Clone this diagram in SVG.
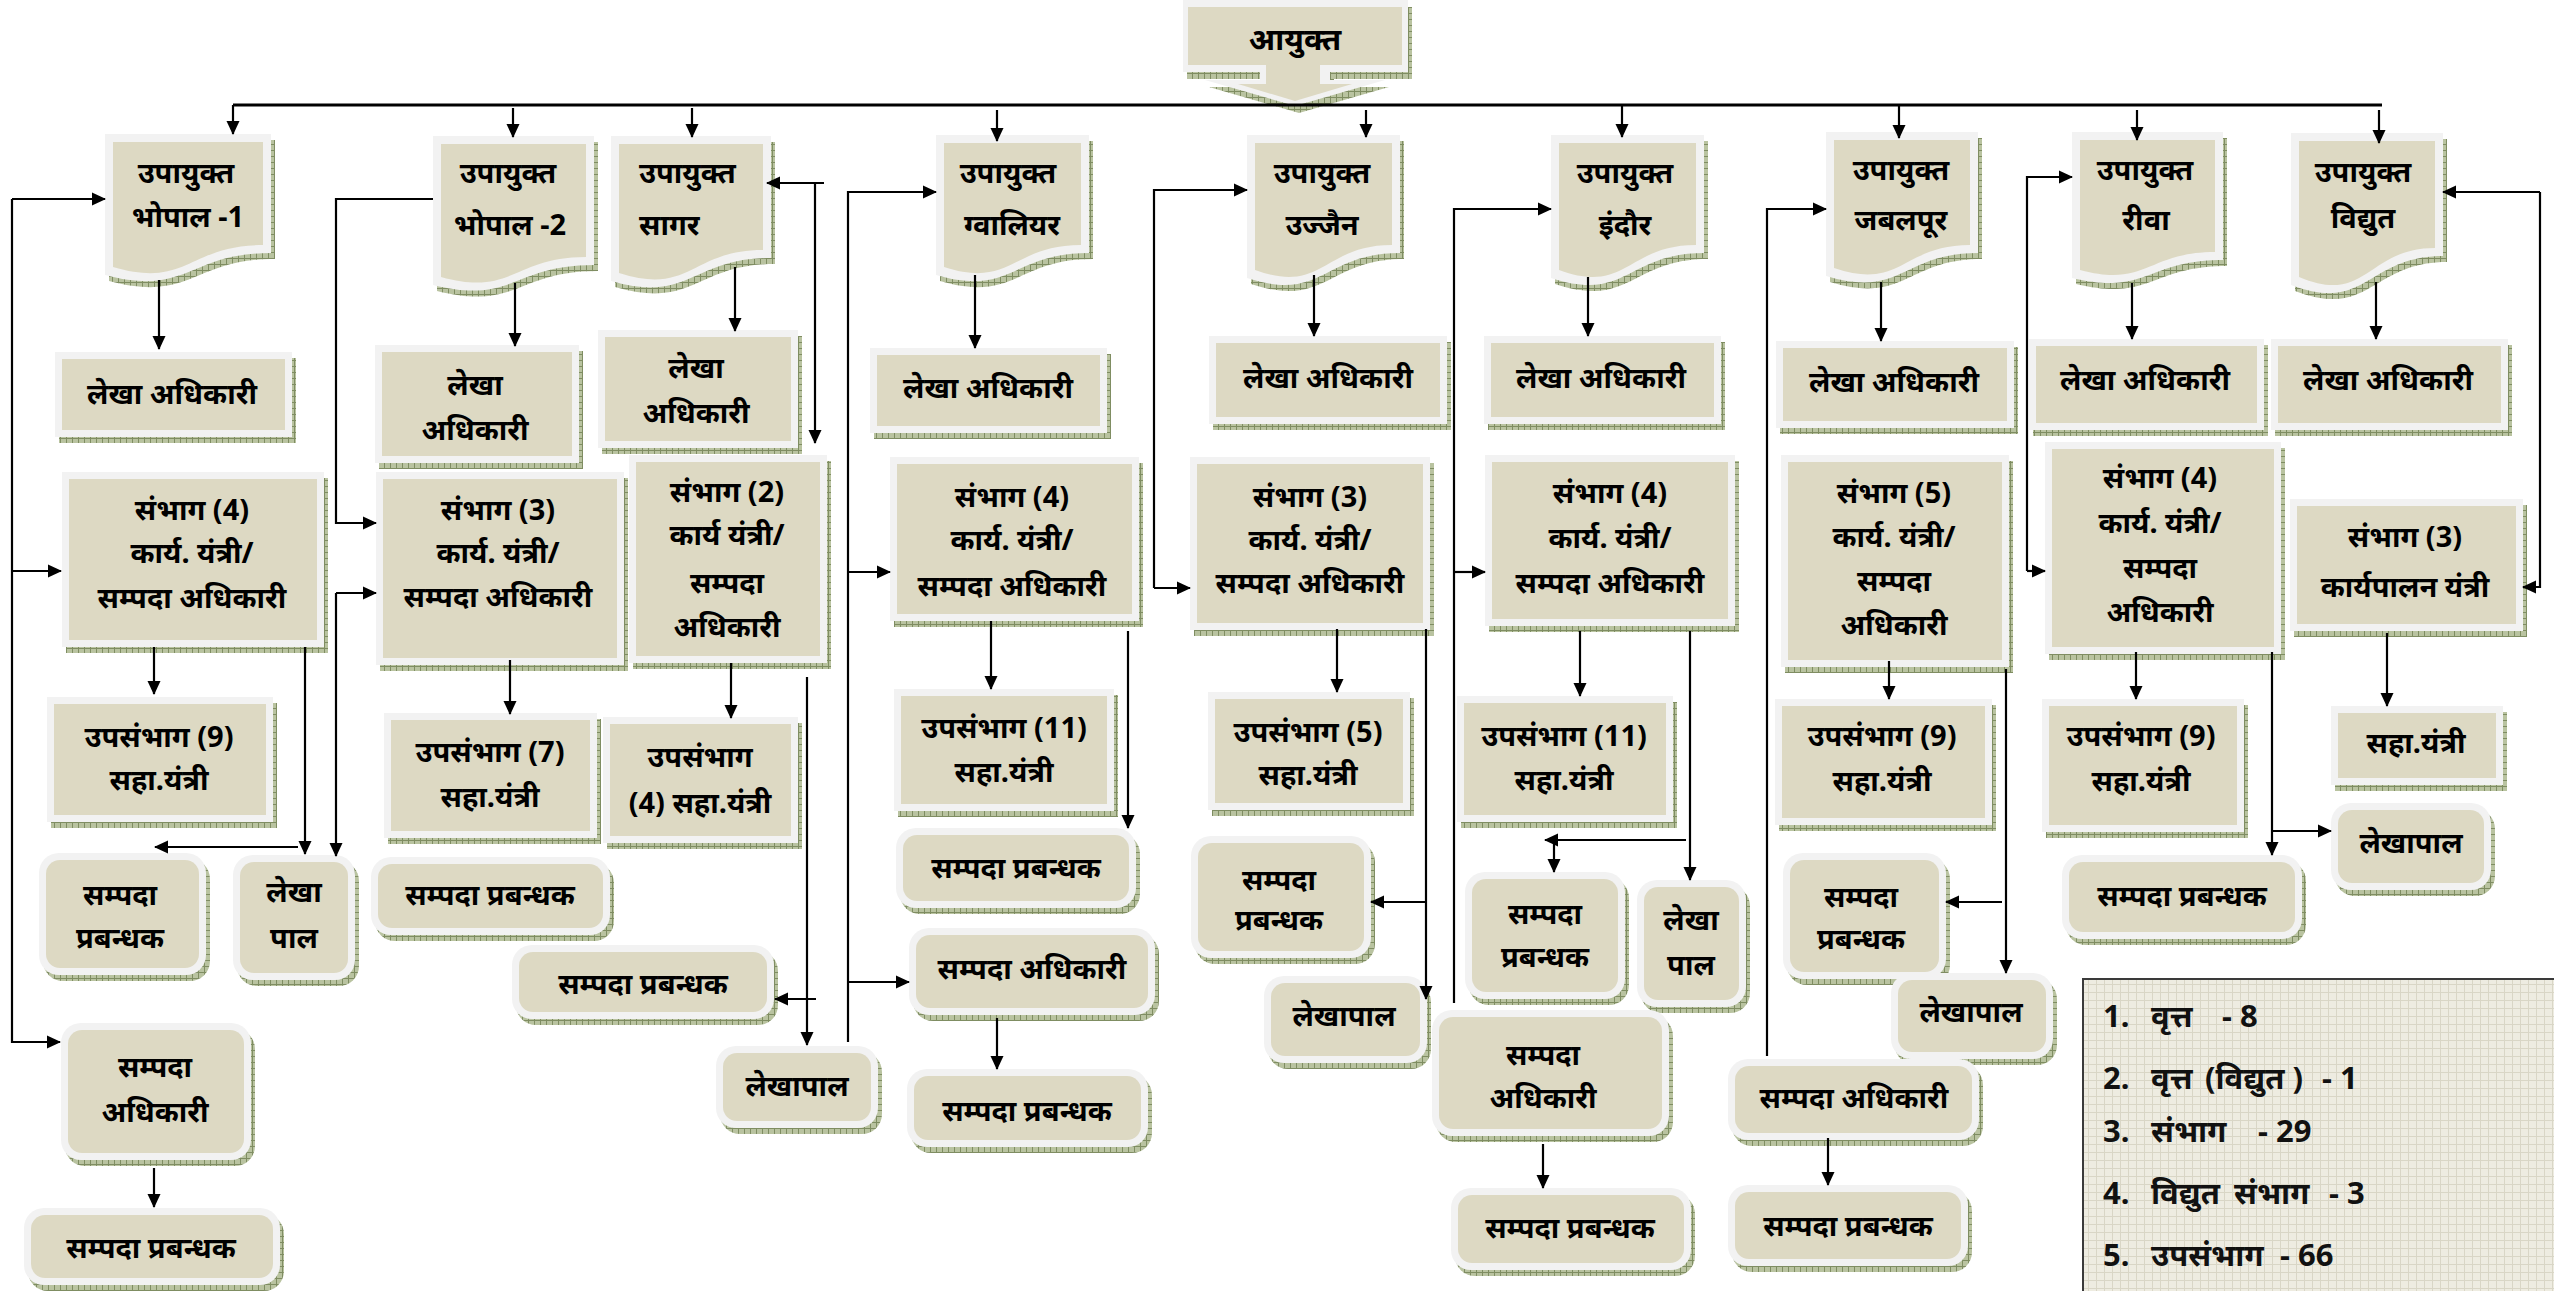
<svg xmlns="http://www.w3.org/2000/svg" width="2554" height="1291" viewBox="0 0 2554 1291">
<defs>
<pattern id="hatch" width="6" height="6" patternUnits="userSpaceOnUse"><rect width="6" height="6" fill="#B9C3A0"/><path d="M0,0.5 H6 M0.5,0 V6" stroke="#7F8D62" stroke-width="1"/></pattern>
<pattern id="grid" width="8" height="8" patternUnits="userSpaceOnUse"><rect width="8" height="8" fill="#EEECE1"/><path d="M0,0.5 H8 M0.5,0 V8" stroke="#D9D6C6" stroke-width="1"/></pattern>
<marker id="ah" viewBox="0 0 14 14" refX="13" refY="7" markerWidth="14" markerHeight="14" markerUnits="userSpaceOnUse" orient="auto"><path d="M0,0.5 L14,7 L0,13.5 Z" fill="#000"/></marker>
</defs>
<style>
.sh{fill:url(#hatch)}
.ob{fill:#F2F2F2}
.ib{fill:#DDD9C3}
.t{font-family:"Noto Sans",sans-serif;font-weight:bold;font-size:29px;fill:#000;text-anchor:middle}
.tl{text-anchor:start}
.lg{font-family:"Noto Sans",sans-serif;font-weight:bold;font-size:31px;fill:#111}
.c{fill:none;stroke:#000;stroke-width:2.2;marker-end:url(#ah)}
.n{fill:none;stroke:#000;stroke-width:2.2}
</style>
<rect width="2554" height="1291" fill="#fff"/>

<g id="aayukt">
<path class="sh" transform="translate(4,7)" d="M1183,0 H1408 V72 H1330 V80 H1385 L1295,106 L1205,80 H1260 V72 H1183 Z"/>
<path class="ob" d="M1183,0 H1408 V72 H1330 V80 H1385 L1295,106 L1205,80 H1260 V72 H1183 Z"/>
<path class="ib" d="M1188,7 H1402 V65 H1320 V84 H1352 L1295,101 L1238,84 H1266 V65 H1188 Z"/>
<text class="t" x="1295" y="50" style="font-size:31px">आयुक्त</text>
</g>

<!-- Documents -->
<g id="doc-bhopal1">
<path class="sh" transform="translate(4,6)" d="M105,134 H271 V253 C188,253 188,297 105,275 Z"/>
<path class="ob" d="M105,134 H271 V253 C188,253 188,297 105,275 Z"/>
<path class="ib" d="M113,142 H263 V245 C188,245 188,289 113,267 Z"/>
<text class="t" x="186" y="183">उपायुक्त</text><text class="t" x="188" y="227">भोपाल -1</text>
</g>
<g id="doc-bhopal2">
<path class="sh" transform="translate(4,6)" d="M433,136 H594 V265 C513,265 513,305 433,285 Z"/>
<path class="ob" d="M433,136 H594 V265 C513,265 513,305 433,285 Z"/>
<path class="ib" d="M441,144 H586 V257 C513,257 513,297 441,277 Z"/>
<text class="t" x="508" y="183">उपायुक्त</text><text class="t" x="510" y="235">भोपाल -2</text>
</g>
<g id="doc-sagar">
<path class="sh" transform="translate(4,6)" d="M611,136 H771 V258 C691,258 691,304 611,281 Z"/>
<path class="ob" d="M611,136 H771 V258 C691,258 691,304 611,281 Z"/>
<path class="ib" d="M619,144 H763 V250 C691,250 691,296 619,273 Z"/>
<text class="t tl" x="639" y="183">उपायुक्त</text><text class="t tl" x="639" y="235">सागर</text>
</g>
<g id="doc-gwalior">
<path class="sh" transform="translate(4,6)" d="M936,135 H1089 V253 C1012,253 1012,297 936,275 Z"/>
<path class="ob" d="M936,135 H1089 V253 C1012,253 1012,297 936,275 Z"/>
<path class="ib" d="M944,143 H1081 V245 C1012,245 1012,289 944,267 Z"/>
<text class="t" x="1008" y="183">उपायुक्त</text><text class="t" x="1012" y="235">ग्वालियर</text>
</g>
<g id="doc-ujjain">
<path class="sh" transform="translate(4,6)" d="M1247,135 H1400 V253 C1323,253 1323,303 1247,278 Z"/>
<path class="ob" d="M1247,135 H1400 V253 C1323,253 1323,303 1247,278 Z"/>
<path class="ib" d="M1255,143 H1392 V245 C1323,245 1323,295 1255,270 Z"/>
<text class="t" x="1322" y="183">उपायुक्त</text><text class="t" x="1322" y="235">उज्जैन</text>
</g>
<g id="doc-indore">
<path class="sh" transform="translate(4,6)" d="M1551,135 H1704 V253 C1627,253 1627,303 1551,278 Z"/>
<path class="ob" d="M1551,135 H1704 V253 C1627,253 1627,303 1551,278 Z"/>
<path class="ib" d="M1559,143 H1696 V245 C1627,245 1627,295 1559,270 Z"/>
<text class="t" x="1625" y="183">उपायुक्त</text><text class="t" x="1625" y="235">इंदौर</text>
</g>
<g id="doc-jabalpur">
<path class="sh" transform="translate(4,6)" d="M1826,132 H1978 V253 C1902,253 1902,299 1826,276 Z"/>
<path class="ob" d="M1826,132 H1978 V253 C1902,253 1902,299 1826,276 Z"/>
<path class="ib" d="M1834,140 H1970 V245 C1902,245 1902,291 1834,268 Z"/>
<text class="t" x="1901" y="180">उपायुक्त</text><text class="t" x="1901" y="230">जबलपूर</text>
</g>
<g id="doc-rewa">
<path class="sh" transform="translate(4,6)" d="M2072,132 H2223 V260 C2147,260 2147,296 2072,278 Z"/>
<path class="ob" d="M2072,132 H2223 V260 C2147,260 2147,296 2072,278 Z"/>
<path class="ib" d="M2080,140 H2215 V252 C2147,252 2147,288 2080,270 Z"/>
<text class="t" x="2145" y="180">उपायुक्त</text><text class="t" x="2146" y="230">रीवा</text>
</g>
<g id="doc-vidyut">
<path class="sh" transform="translate(4,6)" d="M2291,133 H2443 V256 C2367,256 2367,314 2291,285 Z"/>
<path class="ob" d="M2291,133 H2443 V256 C2367,256 2367,314 2291,285 Z"/>
<path class="ib" d="M2299,141 H2435 V248 C2367,248 2367,306 2299,277 Z"/>
<text class="t" x="2363" y="182">उपायुक्त</text><text class="t" x="2363" y="228">विद्युत</text>
</g>

<!-- Bhopal-1 -->
<g id="bp1-lekha"><rect class="sh" x="59" y="358" width="237" height="85"/><rect class="ob" x="55" y="352" width="237" height="85"/><rect class="ib" x="62" y="359" width="223" height="71"/><text class="t" x="172" y="404">लेखा अधिकारी</text></g>
<g id="bp1-sambhag"><rect class="sh" x="66" y="478" width="262" height="175"/><rect class="ob" x="62" y="472" width="262" height="175"/><rect class="ib" x="69" y="479" width="248" height="161"/><text class="t" x="192" y="520">संभाग (4)</text><text class="t" x="192" y="563">कार्य. यंत्री/</text><text class="t" x="192" y="608">सम्पदा अधिकारी</text></g>
<g id="bp1-upsambhag"><rect class="sh" x="51" y="703" width="226" height="125"/><rect class="ob" x="47" y="697" width="226" height="125"/><rect class="ib" x="54" y="704" width="212" height="111"/><text class="t" x="159" y="747">उपसंभाग (9)</text><text class="t" x="159" y="790">सहा.यंत्री</text></g>
<g id="bp1-prabandhak"><rect class="sh" x="43" y="859" width="167" height="122" rx="20"/><rect class="ob" x="39" y="853" width="167" height="122" rx="20"/><rect class="ib" x="46" y="860" width="153" height="108" rx="14"/><text class="t" x="120" y="905">सम्पदा</text><text class="t" x="120" y="948">प्रबन्धक</text></g>
<g id="bp-lekhapal"><rect class="sh" x="237" y="861" width="122" height="125" rx="20"/><rect class="ob" x="233" y="855" width="122" height="125" rx="20"/><rect class="ib" x="240" y="862" width="108" height="111" rx="14"/><text class="t" x="294" y="902">लेखा</text><text class="t" x="294" y="948">पाल</text></g>
<g id="bp1-adhikari"><rect class="sh" x="65" y="1029" width="190" height="137" rx="20"/><rect class="ob" x="61" y="1023" width="190" height="137" rx="20"/><rect class="ib" x="68" y="1030" width="176" height="123" rx="14"/><text class="t" x="155" y="1077">सम्पदा</text><text class="t" x="155" y="1122">अधिकारी</text></g>
<g id="bp1-prabandhak2"><rect class="sh" x="28" y="1214" width="256" height="77" rx="20"/><rect class="ob" x="24" y="1208" width="256" height="77" rx="20"/><rect class="ib" x="31" y="1215" width="242" height="63" rx="14"/><text class="t" x="151" y="1258">सम्पदा प्रबन्धक</text></g>

<!-- Bhopal-2 -->
<g id="bp2-lekha"><rect class="sh" x="379" y="351" width="204" height="118"/><rect class="ob" x="375" y="345" width="204" height="118"/><rect class="ib" x="382" y="352" width="190" height="104"/><text class="t" x="475" y="395">लेखा</text><text class="t" x="475" y="440">अधिकारी</text></g>
<g id="bp2-sambhag"><rect class="sh" x="380" y="478" width="248" height="193"/><rect class="ob" x="376" y="472" width="248" height="193"/><rect class="ib" x="383" y="479" width="234" height="179"/><text class="t" x="498" y="520">संभाग (3)</text><text class="t" x="498" y="563">कार्य. यंत्री/</text><text class="t" x="498" y="607">सम्पदा अधिकारी</text></g>
<g id="bp2-upsambhag"><rect class="sh" x="388" y="719" width="213" height="125"/><rect class="ob" x="384" y="713" width="213" height="125"/><rect class="ib" x="391" y="720" width="199" height="111"/><text class="t" x="490" y="762">उपसंभाग (7)</text><text class="t" x="490" y="807">सहा.यंत्री</text></g>
<g id="bp2-prabandhak"><rect class="sh" x="375" y="863" width="239" height="78" rx="20"/><rect class="ob" x="371" y="857" width="239" height="78" rx="20"/><rect class="ib" x="378" y="864" width="225" height="64" rx="14"/><text class="t" x="490" y="905">सम्पदा प्रबन्धक</text></g>

<!-- Sagar -->
<g id="sg-lekha"><rect class="sh" x="602" y="336" width="200" height="118"/><rect class="ob" x="598" y="330" width="200" height="118"/><rect class="ib" x="605" y="337" width="186" height="104"/><text class="t" x="696" y="378">लेखा</text><text class="t" x="696" y="423">अधिकारी</text></g>
<g id="sg-sambhag"><rect class="sh" x="633" y="461" width="198" height="208"/><rect class="ob" x="629" y="455" width="198" height="208"/><rect class="ib" x="636" y="462" width="184" height="194"/><text class="t" x="727" y="502">संभाग (2)</text><text class="t" x="727" y="545">कार्य यंत्री/</text><text class="t" x="727" y="593">सम्पदा</text><text class="t" x="727" y="637">अधिकारी</text></g>
<g id="sg-upsambhag"><rect class="sh" x="607" y="723" width="195" height="126"/><rect class="ob" x="603" y="717" width="195" height="126"/><rect class="ib" x="610" y="724" width="181" height="112"/><text class="t" x="700" y="767">उपसंभाग</text><text class="t" x="700" y="813">(4) सहा.यंत्री</text></g>
<g id="sg-prabandhak"><rect class="sh" x="516" y="951" width="262" height="74" rx="20"/><rect class="ob" x="512" y="945" width="262" height="74" rx="20"/><rect class="ib" x="519" y="952" width="248" height="60" rx="14"/><text class="t" x="643" y="994">सम्पदा प्रबन्धक</text></g>
<g id="sg-lekhapal"><rect class="sh" x="720" y="1052" width="162" height="82" rx="20"/><rect class="ob" x="716" y="1046" width="162" height="82" rx="20"/><rect class="ib" x="723" y="1053" width="148" height="68" rx="14"/><text class="t" x="797" y="1096">लेखापाल</text></g>

<!-- Gwalior -->
<g id="gw-lekha"><rect class="sh" x="874" y="354" width="237" height="85"/><rect class="ob" x="870" y="348" width="237" height="85"/><rect class="ib" x="877" y="355" width="223" height="71"/><text class="t" x="988" y="398">लेखा अधिकारी</text></g>
<g id="gw-sambhag"><rect class="sh" x="894" y="463" width="249" height="164"/><rect class="ob" x="890" y="457" width="249" height="164"/><rect class="ib" x="897" y="464" width="235" height="150"/><text class="t" x="1012" y="507">संभाग (4)</text><text class="t" x="1012" y="550">कार्य. यंत्री/</text><text class="t" x="1012" y="596">सम्पदा अधिकारी</text></g>
<g id="gw-upsambhag"><rect class="sh" x="898" y="695" width="220" height="122"/><rect class="ob" x="894" y="689" width="220" height="122"/><rect class="ib" x="901" y="696" width="206" height="108"/><text class="t" x="1004" y="738">उपसंभाग (11)</text><text class="t" x="1004" y="782">सहा.यंत्री</text></g>
<g id="gw-prabandhak"><rect class="sh" x="900" y="834" width="240" height="80" rx="20"/><rect class="ob" x="896" y="828" width="240" height="80" rx="20"/><rect class="ib" x="903" y="835" width="226" height="66" rx="14"/><text class="t" x="1016" y="878">सम्पदा प्रबन्धक</text></g>
<g id="gw-adhikari"><rect class="sh" x="913" y="934" width="246" height="87" rx="20"/><rect class="ob" x="909" y="928" width="246" height="87" rx="20"/><rect class="ib" x="916" y="935" width="232" height="73" rx="14"/><text class="t" x="1032" y="979">सम्पदा अधिकारी</text></g>
<g id="gw-prabandhak2"><rect class="sh" x="911" y="1075" width="241" height="78" rx="20"/><rect class="ob" x="907" y="1069" width="241" height="78" rx="20"/><rect class="ib" x="914" y="1076" width="227" height="64" rx="14"/><text class="t" x="1027" y="1121">सम्पदा प्रबन्धक</text></g>

<!-- Ujjain -->
<g id="uj-lekha"><rect class="sh" x="1213" y="342" width="238" height="88"/><rect class="ob" x="1209" y="336" width="238" height="88"/><rect class="ib" x="1216" y="343" width="224" height="74"/><text class="t" x="1328" y="388">लेखा अधिकारी</text></g>
<g id="uj-sambhag"><rect class="sh" x="1194" y="463" width="240" height="173"/><rect class="ob" x="1190" y="457" width="240" height="173"/><rect class="ib" x="1197" y="464" width="226" height="159"/><text class="t" x="1310" y="507">संभाग (3)</text><text class="t" x="1310" y="550">कार्य. यंत्री/</text><text class="t" x="1310" y="593">सम्पदा अधिकारी</text></g>
<g id="uj-upsambhag"><rect class="sh" x="1212" y="698" width="202" height="118"/><rect class="ob" x="1208" y="692" width="202" height="118"/><rect class="ib" x="1215" y="699" width="188" height="104"/><text class="t" x="1308" y="742">उपसंभाग (5)</text><text class="t" x="1308" y="785">सहा.यंत्री</text></g>
<g id="uj-prabandhak"><rect class="sh" x="1195" y="842" width="180" height="122" rx="20"/><rect class="ob" x="1191" y="836" width="180" height="122" rx="20"/><rect class="ib" x="1198" y="843" width="166" height="108" rx="14"/><text class="t" x="1279" y="890">सम्पदा</text><text class="t" x="1279" y="930">प्रबन्धक</text></g>
<g id="uj-lekhapal"><rect class="sh" x="1268" y="982" width="163" height="87" rx="20"/><rect class="ob" x="1264" y="976" width="163" height="87" rx="20"/><rect class="ib" x="1271" y="983" width="149" height="73" rx="14"/><text class="t" x="1344" y="1026">लेखापाल</text></g>

<!-- Indore -->
<g id="in-lekha"><rect class="sh" x="1488" y="342" width="237" height="88"/><rect class="ob" x="1484" y="336" width="237" height="88"/><rect class="ib" x="1491" y="343" width="223" height="74"/><text class="t" x="1601" y="388">लेखा अधिकारी</text></g>
<g id="in-sambhag"><rect class="sh" x="1489" y="461" width="250" height="171"/><rect class="ob" x="1485" y="455" width="250" height="171"/><rect class="ib" x="1492" y="462" width="236" height="157"/><text class="t" x="1610" y="503">संभाग (4)</text><text class="t" x="1610" y="548">कार्य. यंत्री/</text><text class="t" x="1610" y="593">सम्पदा अधिकारी</text></g>
<g id="in-upsambhag"><rect class="sh" x="1461" y="702" width="216" height="126"/><rect class="ob" x="1457" y="696" width="216" height="126"/><rect class="ib" x="1464" y="703" width="202" height="112"/><text class="t" x="1564" y="746">उपसंभाग (11)</text><text class="t" x="1564" y="790">सहा.यंत्री</text></g>
<g id="in-prabandhak"><rect class="sh" x="1469" y="878" width="160" height="127" rx="20"/><rect class="ob" x="1465" y="872" width="160" height="127" rx="20"/><rect class="ib" x="1472" y="879" width="146" height="113" rx="14"/><text class="t" x="1545" y="924">सम्पदा</text><text class="t" x="1545" y="967">प्रबन्धक</text></g>
<g id="in-lekhapal"><rect class="sh" x="1641" y="886" width="109" height="127" rx="20"/><rect class="ob" x="1637" y="880" width="109" height="127" rx="20"/><rect class="ib" x="1644" y="887" width="95" height="113" rx="14"/><text class="t" x="1691" y="930">लेखा</text><text class="t" x="1691" y="975">पाल</text></g>
<g id="in-adhikari"><rect class="sh" x="1436" y="1016" width="237" height="126" rx="20"/><rect class="ob" x="1432" y="1010" width="237" height="126" rx="20"/><rect class="ib" x="1439" y="1017" width="223" height="112" rx="14"/><text class="t" x="1543" y="1065">सम्पदा</text><text class="t" x="1543" y="1108">अधिकारी</text></g>
<g id="in-prabandhak2"><rect class="sh" x="1455" y="1194" width="240" height="82" rx="20"/><rect class="ob" x="1451" y="1188" width="240" height="82" rx="20"/><rect class="ib" x="1458" y="1195" width="226" height="68" rx="14"/><text class="t" x="1570" y="1238">सम्पदा प्रबन्धक</text></g>

<!-- Jabalpur -->
<g id="jb-lekha"><rect class="sh" x="1780" y="347" width="238" height="87"/><rect class="ob" x="1776" y="341" width="238" height="87"/><rect class="ib" x="1783" y="348" width="224" height="73"/><text class="t" x="1894" y="392">लेखा अधिकारी</text></g>
<g id="jb-sambhag"><rect class="sh" x="1785" y="461" width="228" height="212"/><rect class="ob" x="1781" y="455" width="228" height="212"/><rect class="ib" x="1788" y="462" width="214" height="198"/><text class="t" x="1894" y="503">संभाग (5)</text><text class="t" x="1894" y="547">कार्य. यंत्री/</text><text class="t" x="1894" y="591">सम्पदा</text><text class="t" x="1894" y="635">अधिकारी</text></g>
<g id="jb-upsambhag"><rect class="sh" x="1779" y="705" width="217" height="126"/><rect class="ob" x="1775" y="699" width="217" height="126"/><rect class="ib" x="1782" y="706" width="203" height="112"/><text class="t" x="1882" y="746">उपसंभाग (9)</text><text class="t" x="1882" y="791">सहा.यंत्री</text></g>
<g id="jb-prabandhak"><rect class="sh" x="1787" y="859" width="163" height="126" rx="20"/><rect class="ob" x="1783" y="853" width="163" height="126" rx="20"/><rect class="ib" x="1790" y="860" width="149" height="112" rx="14"/><text class="t" x="1861" y="907">सम्पदा</text><text class="t" x="1861" y="949">प्रबन्धक</text></g>
<g id="jb-lekhapal"><rect class="sh" x="1895" y="979" width="162" height="86" rx="20"/><rect class="ob" x="1891" y="973" width="162" height="86" rx="20"/><rect class="ib" x="1898" y="980" width="148" height="72" rx="14"/><text class="t" x="1971" y="1022">लेखापाल</text></g>
<g id="jb-adhikari"><rect class="sh" x="1732" y="1065" width="251" height="81" rx="20"/><rect class="ob" x="1728" y="1059" width="251" height="81" rx="20"/><rect class="ib" x="1735" y="1066" width="237" height="67" rx="14"/><text class="t" x="1854" y="1108">सम्पदा अधिकारी</text></g>
<g id="jb-prabandhak2"><rect class="sh" x="1732" y="1191" width="240" height="81" rx="20"/><rect class="ob" x="1728" y="1185" width="240" height="81" rx="20"/><rect class="ib" x="1735" y="1192" width="226" height="67" rx="14"/><text class="t" x="1848" y="1236">सम्पदा प्रबन्धक</text></g>

<!-- Rewa -->
<g id="rw-lekha"><rect class="sh" x="2033" y="345" width="235" height="91"/><rect class="ob" x="2029" y="339" width="235" height="91"/><rect class="ib" x="2036" y="346" width="221" height="77"/><text class="t" x="2145" y="390">लेखा अधिकारी</text></g>
<g id="rw-sambhag"><rect class="sh" x="2049" y="448" width="236" height="212"/><rect class="ob" x="2045" y="442" width="236" height="212"/><rect class="ib" x="2052" y="449" width="222" height="198"/><text class="t" x="2160" y="488">संभाग (4)</text><text class="t" x="2160" y="533">कार्य. यंत्री/</text><text class="t" x="2160" y="578">सम्पदा</text><text class="t" x="2160" y="622">अधिकारी</text></g>
<g id="rw-upsambhag"><rect class="sh" x="2046" y="705" width="202" height="133"/><rect class="ob" x="2042" y="699" width="202" height="133"/><rect class="ib" x="2049" y="706" width="188" height="119"/><text class="t" x="2141" y="746">उपसंभाग (9)</text><text class="t" x="2141" y="791">सहा.यंत्री</text></g>
<g id="rw-prabandhak"><rect class="sh" x="2066" y="861" width="240" height="84" rx="20"/><rect class="ob" x="2062" y="855" width="240" height="84" rx="20"/><rect class="ib" x="2069" y="862" width="226" height="70" rx="14"/><text class="t" x="2182" y="906">सम्पदा प्रबन्धक</text></g>
<g id="rw-lekhapal"><rect class="sh" x="2335" y="809" width="160" height="87" rx="20"/><rect class="ob" x="2331" y="803" width="160" height="87" rx="20"/><rect class="ib" x="2338" y="810" width="146" height="73" rx="14"/><text class="t" x="2411" y="853">लेखापाल</text></g>

<!-- Vidyut -->
<g id="vd-lekha"><rect class="sh" x="2275" y="345" width="237" height="91"/><rect class="ob" x="2271" y="339" width="237" height="91"/><rect class="ib" x="2278" y="346" width="223" height="77"/><text class="t" x="2388" y="390">लेखा अधिकारी</text></g>
<g id="vd-sambhag"><rect class="sh" x="2294" y="505" width="233" height="132"/><rect class="ob" x="2290" y="499" width="233" height="132"/><rect class="ib" x="2297" y="506" width="219" height="118"/><text class="t" x="2405" y="547">संभाग (3)</text><text class="t" x="2405" y="597">कार्यपालन यंत्री</text></g>
<g id="vd-saha"><rect class="sh" x="2335" y="712" width="172" height="79"/><rect class="ob" x="2331" y="706" width="172" height="79"/><rect class="ib" x="2338" y="713" width="158" height="65"/><text class="t" x="2416" y="753">सहा.यंत्री</text></g>

<!-- Legend -->
<g id="legend">
<rect x="2083" y="979" width="480" height="320" fill="url(#grid)" stroke="#3A3A3A" stroke-width="2"/>
<text class="lg" x="2103" y="1027">1.</text><text class="lg" x="2151" y="1027">वृत्त</text><text class="lg" x="2222" y="1027">- 8</text>
<text class="lg" x="2103" y="1089">2.</text><text class="lg" x="2151" y="1089">वृत्त</text><text class="lg" x="2205" y="1089">(विद्युत )</text><text class="lg" x="2322" y="1089">- 1</text>
<text class="lg" x="2103" y="1142">3.</text><text class="lg" x="2151" y="1142">संभाग</text><text class="lg" x="2258" y="1142">- 29</text>
<text class="lg" x="2103" y="1204">4.</text><text class="lg" x="2151" y="1204">विद्युत</text><text class="lg" x="2234" y="1204">संभाग</text><text class="lg" x="2329" y="1204">- 3</text>
<text class="lg" x="2103" y="1266">5.</text><text class="lg" x="2151" y="1266">उपसंभाग</text><text class="lg" x="2280" y="1266">- 66</text>
</g>

<!-- Connectors -->
<g id="connectors">
<path class="n" d="M233,105 H2382" style="stroke-width:3"/>
<path class="c" d="M233,105 V134"/>
<path class="c" d="M513,108 V137"/>
<path class="c" d="M692,108 V137"/>
<path class="c" d="M997,110 V141"/>
<path class="c" d="M1366,110 V137"/>
<path class="c" d="M1622,105 V137"/>
<path class="c" d="M1899,105 V138"/>
<path class="c" d="M2137,110 V140"/>
<path class="c" d="M2379,110 V143"/>

<path class="c" d="M159,280 V349"/>
<path class="c" d="M12,199 H105"/>
<path class="c" d="M12,199 V1042 H60"/>
<path class="c" d="M12,571 H61"/>
<path class="c" d="M154,647 V694"/>
<path class="c" d="M305,647 V854"/>
<path class="c" d="M298,847 H155"/>
<path class="c" d="M154,1168 V1207"/>

<path class="c" d="M515,283 V346"/>
<path class="c" d="M433,199 H336 V523 H376"/>
<path class="c" d="M336,593 H376"/>
<path class="c" d="M336,593 V856"/>
<path class="c" d="M510,660 V714"/>

<path class="c" d="M735,267 V331"/>
<path class="c" d="M824,183 H767"/>
<path class="c" d="M815,183 V443"/>
<path class="c" d="M731,663 V718"/>
<path class="c" d="M807,677 V1045"/>
<path class="c" d="M816,999 H775"/>

<path class="c" d="M975,275 V348"/>
<path class="c" d="M848,1042 V192 H936"/>
<path class="c" d="M848,572 H890"/>
<path class="c" d="M848,982 H909"/>
<path class="c" d="M991,621 V689"/>
<path class="c" d="M1128,631 V828"/>
<path class="c" d="M997,1018 V1069"/>

<path class="c" d="M1314,275 V336"/>
<path class="c" d="M1154,588 V190 H1247"/>
<path class="c" d="M1154,588 H1190"/>
<path class="c" d="M1337,629 V692"/>
<path class="c" d="M1426,629 V999"/>
<path class="c" d="M1426,902 H1371"/>

<path class="c" d="M1588,277 V336"/>
<path class="c" d="M1454,1003 V209 H1551"/>
<path class="c" d="M1454,572 H1485"/>
<path class="c" d="M1580,631 V696"/>
<path class="c" d="M1690,631 V880"/>
<path class="c" d="M1686,840 H1545"/>
<path class="c" d="M1554,840 V872"/>
<path class="c" d="M1543,1144 V1188"/>

<path class="c" d="M1881,282 V341"/>
<path class="c" d="M1767,1056 V209 H1826"/>
<path class="c" d="M1889,661 V699"/>
<path class="c" d="M2006,669 V973"/>
<path class="c" d="M2002,902 H1946"/>
<path class="c" d="M1828,1138 V1185"/>

<path class="c" d="M2132,283 V339"/>
<path class="c" d="M2027,571 H2045"/>
<path class="c" d="M2027,571 V177 H2072"/>
<path class="c" d="M2136,652 V699"/>
<path class="c" d="M2272,652 V855"/>
<path class="c" d="M2272,831 H2331"/>

<path class="c" d="M2376,282 V339"/>
<path class="c" d="M2540,192 H2443"/>
<path class="c" d="M2540,192 V587 H2523"/>
<path class="c" d="M2387,633 V706"/>
</g>
</svg>
